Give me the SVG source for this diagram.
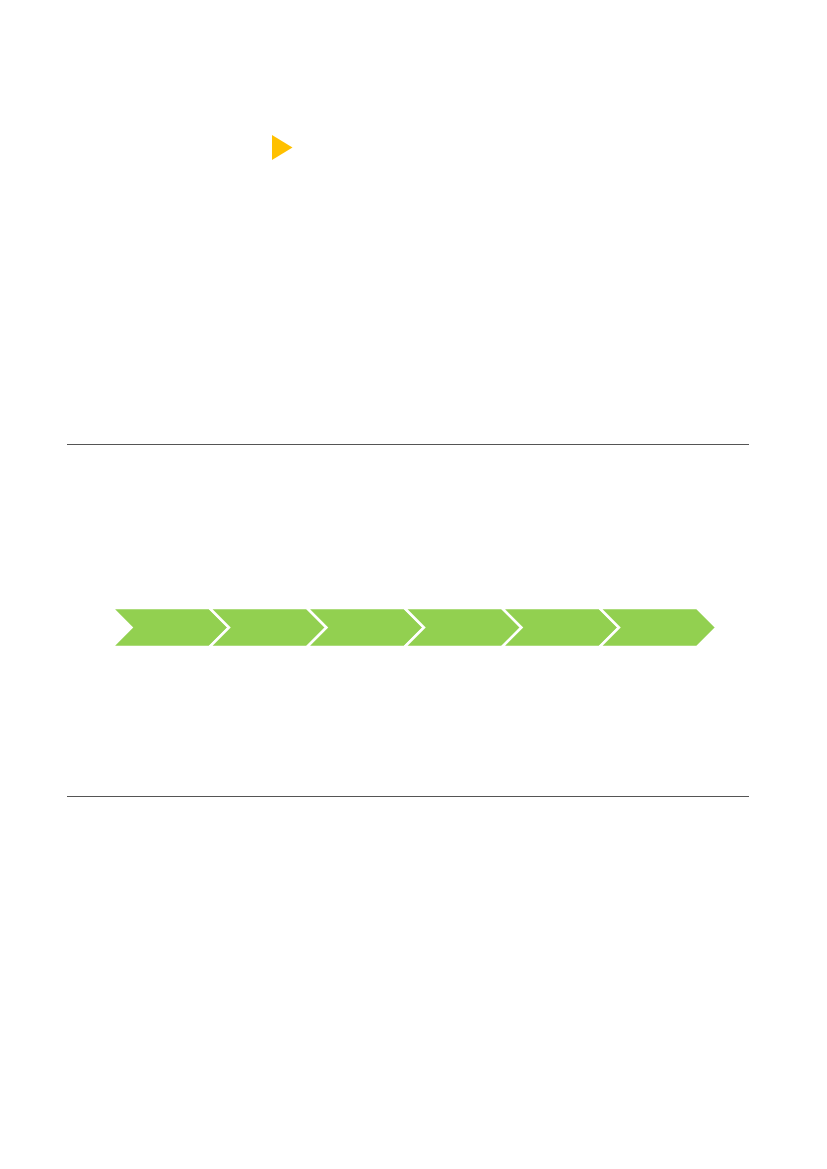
<svg xmlns="http://www.w3.org/2000/svg" width="827" height="1169" viewBox="0 0 827 1169">
  <style>
    .rule { stroke: #555555; stroke-width: 1.2; fill: none; }
    .chev { fill: #92D050; stroke: #FFFFFF; stroke-width: 2.5; stroke-linejoin: miter; }
    .tri { fill: #FFC000; }
  </style>
  <defs>
    <polygon id="chevShape" points="0,0 97.5,0 117,19.5 97.5,39 0,39 19.5,19.5"/>
  </defs>
  <rect x="0" y="0" width="827" height="1169" fill="#FFFFFF"/>
  <g id="marker-triangle">
    <polygon class="tri" points="272,135 292.5,147.5 272,160"/>
  </g>
  <g id="rule-top">
    <line class="rule" x1="67" y1="444.5" x2="749" y2="444.5"/>
  </g>
  <g id="rule-bottom">
    <line class="rule" x1="67" y1="796.5" x2="749" y2="796.5"/>
  </g>
  <g id="chevron-1"><use href="#chevShape" class="chev" x="112" y="608"/></g>
  <g id="chevron-2"><use href="#chevShape" class="chev" x="209.5" y="608"/></g>
  <g id="chevron-3"><use href="#chevShape" class="chev" x="307" y="608"/></g>
  <g id="chevron-4"><use href="#chevShape" class="chev" x="404.5" y="608"/></g>
  <g id="chevron-5"><use href="#chevShape" class="chev" x="502" y="608"/></g>
  <g id="chevron-6"><use href="#chevShape" class="chev" x="599.5" y="608"/></g>
  <g id="connectors"/>
</svg>
